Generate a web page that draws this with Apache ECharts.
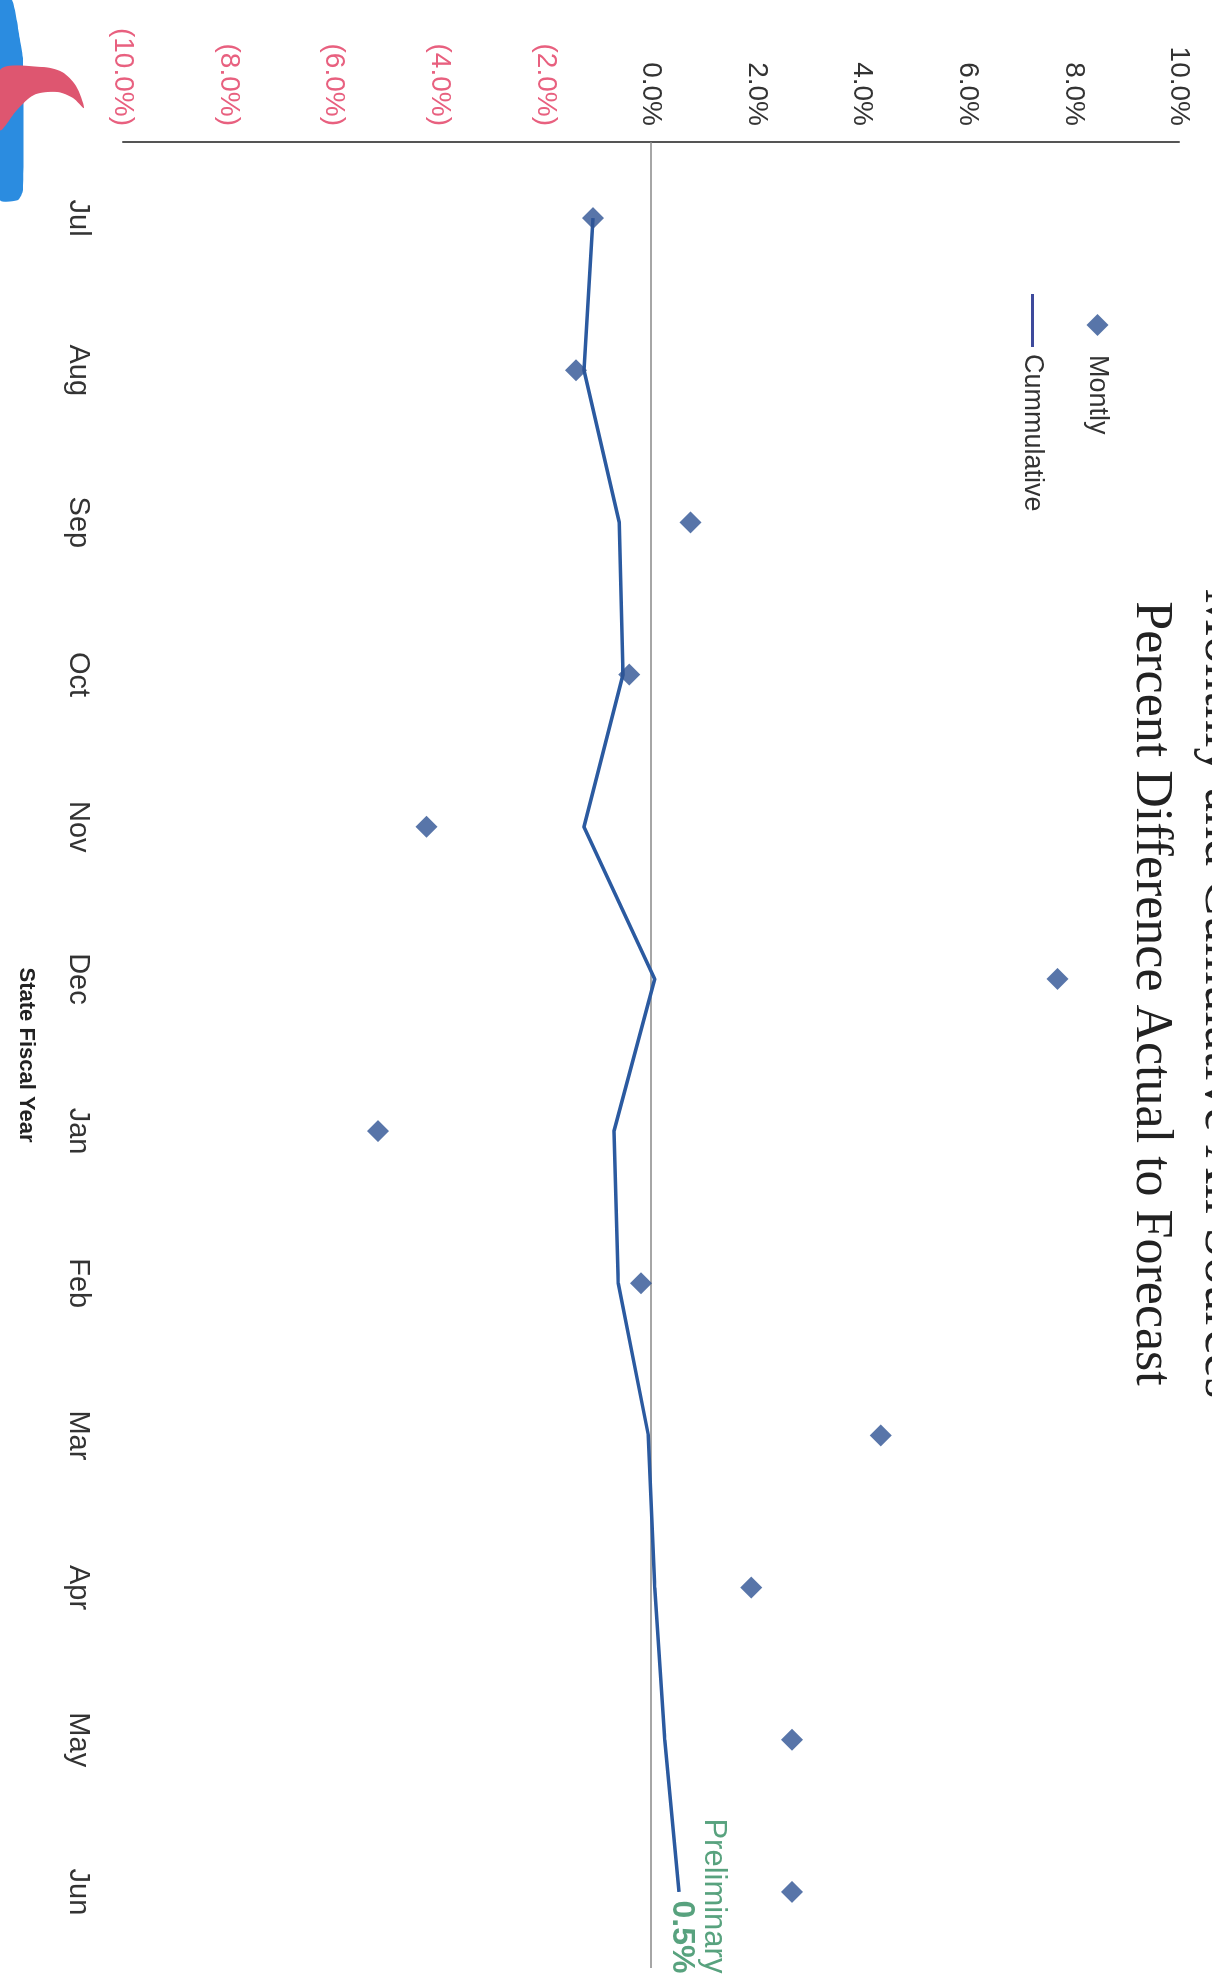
<!DOCTYPE html>
<html>
<head>
<meta charset="utf-8">
<script src="https://cdn.jsdelivr.net/npm/echarts@6/dist/echarts.min.js"></script>
<style>
  html, body { margin: 0; padding: 0; background: #ffffff; overflow: hidden; width: 1212px; height: 1987px; }
  #chart {
    position: absolute; left: 0; top: 0;
    width: 1987px; height: 1212px;
    transform-origin: 0 0;
    transform: translateX(1212px) rotate(90deg);
  }
</style>
</head>
<body>
<div id="chart"></div>
<script>
const months = ['Jul', 'Aug', 'Sep', 'Oct', 'Nov', 'Dec', 'Jan', 'Feb', 'Mar', 'Apr', 'May', 'Jun'];
const monthly = [-1.10, -1.42, 0.75, -0.41, -4.25, 7.70, -5.17, -0.19, 4.35, 1.90, 2.67, 2.67];
const cumulative = [-1.10, -1.27, -0.60, -0.53, -1.27, 0.07, -0.70, -0.62, -0.05, 0.07, 0.26, 0.53];
const valueTicks = [-10, -8, -6, -4, -2, 0, 2, 4, 6, 8, 10];
const titleText = 'Percent Difference Actual to Forecast';
const topTitleText = 'Monthly and Cumulative All Sources';
const prelimText = 'Preliminary';
const prelimValueText = '0.5%';

function fmtPct(v) {
  if (v < 0) return '(' + Math.abs(v).toFixed(1) + '%)';
  return v.toFixed(1) + '%';
}

const chart = echarts.init(document.getElementById('chart'), null, { renderer: 'canvas', width: 1987, height: 1212 });

const lastIdx = months.length - 1;
const lineColor = '#2b5aa0';
const dotColor = '#2e5394';

chart.setOption({
  backgroundColor: '#ffffff',
  animation: false,
  title: [
    {
      text: topTitleText, left: 'center', top: -40,
      textStyle: { fontFamily: 'Liberation Serif', fontSize: 54, fontWeight: 'normal', color: '#222' }
    },
    {
      text: titleText, left: 'center', top: 30,
      textStyle: { fontFamily: 'Liberation Serif', fontSize: 52, fontWeight: 'normal', color: '#222' }
    }
  ],
  graphic: [
    {
      type: 'polygon', silent: true, z: 10,
      shape: { points: [[0, 1212], [0, 1200], [40, 1192], [60, 1189], [190, 1189], [200, 1194], [200, 1212]], smooth: 0.2 },
      style: { fill: '#2b8ce0' }
    },
    {
      type: 'polygon', silent: true, z: 11,
      shape: { points: [[70, 1212], [67, 1170], [72, 1150], [86, 1136], [108, 1128], [98, 1139], [92, 1155], [95, 1178], [110, 1195], [130, 1212]], smooth: 0.3 },
      style: { fill: '#de5670' }
    }
  ],
  legend: [
    {
      orient: 'vertical',
      left: 309, top: 96,
      itemWidth: 22, itemHeight: 22,
      data: [{ name: 'Montly', icon: 'diamond' }],
      textStyle: { fontFamily: 'Liberation Sans', fontSize: 27, color: '#333', padding: [0, 0, 0, 14] }
    },
    {
      orient: 'vertical',
      left: 289, top: 161,
      itemWidth: 53, itemHeight: 3,
      data: [{ name: 'Cummulative', icon: 'rect', itemStyle: { color: '#3e4a9c' } }],
      textStyle: { fontFamily: 'Liberation Sans', fontSize: 27, color: '#333', padding: [0, 0, 0, 2] }
    }
  ],
  grid: { left: 142, right: 19, top: 33, bottom: 123, containLabel: false },
  xAxis: {
    type: 'category',
    data: months,
    boundaryGap: true,
    axisLine: { show: false, onZero: false },
    axisTick: { show: false },
    axisLabel: { margin: 30, fontFamily: 'Liberation Sans', fontSize: 29, color: '#333' },
    name: 'State Fiscal Year',
    nameLocation: 'middle',
    nameGap: 86,
    nameTextStyle: { fontFamily: 'Liberation Sans', fontSize: 22, fontWeight: 'bold', color: '#222' }
  },
  yAxis: {
    type: 'value',
    min: valueTicks[0], max: valueTicks[valueTicks.length - 1], interval: 2,
    axisLine: { show: true, lineStyle: { color: '#555', width: 2 } },
    axisTick: { show: false },
    splitLine: { show: false },
    axisLabel: {
      margin: 16,
      fontFamily: 'Liberation Sans', fontSize: 28,
      formatter: fmtPct,
      color: function (v) { return Number(v) < 0 ? '#e8607f' : '#333'; }
    }
  },
  series: [
    {
      name: 'Montly',
      type: 'scatter',
      data: monthly,
      symbol: 'diamond',
      symbolSize: 22,
      itemStyle: { color: dotColor },
      z: 4
    },
    {
      name: 'Cummulative',
      type: 'line',
      data: cumulative,
      symbol: 'none',
      lineStyle: { color: lineColor, width: 3.5 },
      itemStyle: { color: lineColor },
      z: 3,
      markLine: {
        silent: true,
        symbol: 'none',
        label: { show: false },
        lineStyle: { color: '#888', width: 1.5, type: 'solid' },
        data: [{ yAxis: 0 }],
        z: 1
      }
    },
    {
      name: 'prelim',
      type: 'scatter',
      data: [[months[lastIdx], cumulative[lastIdx]]],
      symbolSize: 1,
      itemStyle: { color: 'rgba(0,0,0,0)' },
      silent: true,
      label: {
        show: true,
        position: [82, 14],
        align: 'right',
        verticalAlign: 'bottom',
        formatter: '{a|' + prelimText + '}\n{b|' + prelimValueText + '}',
        rich: {
          a: { fontFamily: 'Liberation Sans', fontSize: 31, color: '#2e8b5e', align: 'right', lineHeight: 32 },
          b: { fontFamily: 'Liberation Sans', fontSize: 32, fontWeight: 'bold', color: '#2e8b5e', align: 'right', lineHeight: 32 }
        }
      }
    }
  ]
});
</script>
</body>
</html>
